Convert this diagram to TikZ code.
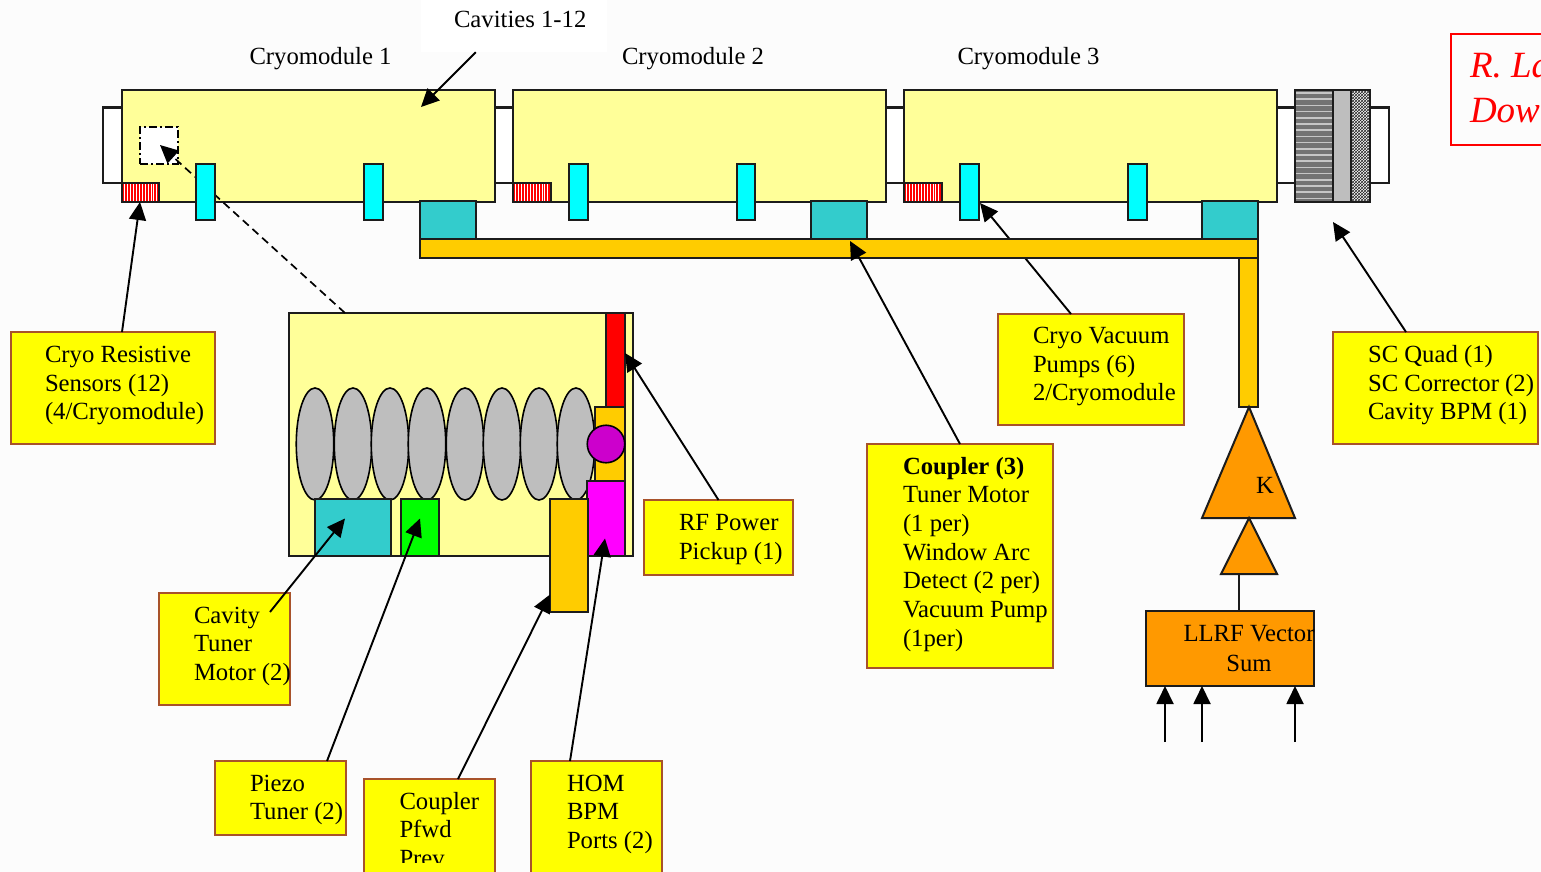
\documentclass[tikz,border=0pt]{standalone}
\usepackage{fontspec}
\setmainfont{Liberation Serif}
\usetikzlibrary{arrows.meta,patterns,shapes.geometric}
\definecolor{pale}{HTML}{FFFF99}
\definecolor{lblfill}{HTML}{FFFF00}
\definecolor{lbledge}{HTML}{A8522A}
\definecolor{inkk}{HTML}{1C1C1C}
\definecolor{teal2}{HTML}{33CCCC}
\definecolor{aqua}{HTML}{00FFFF}
\definecolor{amber}{HTML}{FFCC00}
\definecolor{drive}{HTML}{FF9900}
\definecolor{silver2}{HTML}{BEBEBE}
\definecolor{purp}{HTML}{CC00CC}
\definecolor{magen}{HTML}{FF00FF}
\definecolor{lime2}{HTML}{00FF00}
\definecolor{redd}{HTML}{FF0000}
\tikzset{
  part/.style={draw=inkk,line width=2.1pt,inner sep=0pt,outer sep=0pt,rectangle},
  module/.style={part,fill=pale},
  stub/.style={part,fill=white},
  pump/.style={part,fill=aqua},
  cplr/.style={part,fill=teal2},
  amberbox/.style={part,fill=amber},
  sensor/.style={part,fill=redd,path picture={
    \foreach \i in {1,...,13}
      \draw[white,line width=1pt] ([xshift=\i*2.9]path picture bounding box.south west) -- ([xshift=\i*2.9]path picture bounding box.north west);}},
  hstripes/.style={part,fill=gray!90!black,path picture={
    \foreach \i in {0,...,18}
      \draw[gray!45,line width=1.5pt] ([yshift=-3-\i*6.2]path picture bounding box.north west) -- ([yshift=-3-\i*6.2]path picture bounding box.north east);}},
  hatch/.style={part,pattern=crosshatch,pattern color=black!85},
  lblbox/.style={draw=lbledge,line width=1.8pt,fill=lblfill,inner sep=0pt,outer sep=0pt,rectangle},
  txt/.style={inner sep=0pt,outer sep=0pt,anchor=north west,align=left,font=\fontsize{24.7}{28.7}\selectfont,text=black},
  arr/.style={draw=black,line width=1.9pt,-{Triangle[length=18pt,width=17pt]}},
  plain/.style={draw=inkk,line width=2pt},
  tri/.style={draw=inkk,line width=2pt,fill=drive,line join=miter}
}
\newcommand{\bx}[6][]{%
  \pgfmathsetmacro{\bw}{#5-#3}\pgfmathsetmacro{\bh}{#6-#4}%
  \pgfmathsetmacro{\cxx}{(#3+#5)/2}\pgfmathsetmacro{\cyy}{(#4+#6)/2}%
  \node[#1,minimum width=\bw pt,minimum height=\bh pt] (#2) at (\cxx,\cyy) {};}
\newcommand{\tx}[5][]{\node[txt,#1] (#2) at (#3,{#4-20}) {\rule{0pt}{20pt}#5};}
\begin{document}
\begin{tikzpicture}[x=1pt,y=-1pt]
\clip (0,0) rectangle (1541,872);
\fill[white!99!black] (0,0) rectangle (1541,872);
% stubs
\bx[stub]{stubL}{103}{107.5}{122}{183}
\bx[stub]{stubA}{495}{107.5}{513}{183}
\bx[stub]{stubB}{886}{107.5}{904}{183}
\bx[stub]{stubC}{1277}{107.5}{1295}{183}
\bx[stub]{stubR}{1370}{107.5}{1389}{183}
% modules
\bx[module]{cmA}{122}{90}{495}{202}
\bx[module]{cmB}{513}{90}{886}{202}
\bx[module]{cmC}{904}{90}{1277}{202}
% quad
\bx[hstripes]{quadA}{1295}{90}{1333}{202}
\bx[part,fill=silver2]{quadB}{1333}{90}{1351}{202}
\bx[hatch]{quadC}{1351}{90}{1370}{202}
% detail window
\node[draw=black,fill=white,line width=2.2pt,dash pattern=on 8pt off 3pt on 2pt off 3pt,inner sep=0pt,minimum width=38pt,minimum height=37pt] (win) at (159,145.5) {};
% sensors
\bx[sensor]{senA}{122}{183}{159}{202}
\bx[sensor]{senB}{513}{183}{551}{202}
\bx[sensor]{senC}{904}{183}{942}{202}
% detail box first, for the dashed leader
\bx[module]{detail}{289}{313}{633}{556}
\draw[black,line width=1.7pt,dash pattern=on 8pt off 5pt,-{Triangle[length=18pt,width=17pt]}] ([xshift=-116]detail.north) -- ([xshift=1,yshift=0.5]win.center);
% pumps
\bx[pump]{pmA}{196}{164}{215}{220}
\bx[pump]{pmB}{364}{164}{383}{220}
\bx[pump]{pmC}{569}{164}{588}{220}
\bx[pump]{pmD}{737}{164}{755}{220}
\bx[pump]{pmE}{960}{164}{979}{220}
\bx[pump]{pmF}{1128}{164}{1147}{220}
% couplers
\bx[cplr]{cpA}{420}{201}{476}{239}
\bx[cplr]{cpB}{811}{201}{867}{239}
\bx[cplr]{cpC}{1202}{201}{1258}{239}
% cavities
\foreach \c/\n in {315/a,353/b,390/c,427/d,465/e,502/f,539/g,576/h}
  \node[draw=black,fill=silver2,line width=1.6pt,ellipse,inner sep=0pt,minimum width=37.5pt,minimum height=112pt] (cav\n) at (\c,444) {};
% detail parts
\bx[part,fill=redd]{rfred}{606}{313}{625}{407}
\bx[amberbox]{cplA}{595}{407}{625}{481}
\node[draw=black,fill=purp,line width=1.6pt,circle,inner sep=0pt,minimum size=37.5pt] (dot) at (606,444) {};
\bx[part,fill=magen]{hom}{587}{481}{625}{556}
\bx[amberbox]{cplB}{550}{499}{588}{612}
\bx[cplr]{tuner}{315}{499}{391}{556}
\bx[part,fill=lime2]{piezo}{401}{499}{439}{556}
% labels
\bx[lblbox]{lSens}{11}{332}{215}{444}
\bx[lblbox]{lVac}{998}{314}{1184}{425}
\bx[lblbox]{lSC}{1333}{332}{1538}{444}
\bx[lblbox]{lCoup}{867}{444}{1053}{668}
\bx[lblbox]{lRF}{644}{500}{793}{575}
\bx[lblbox]{lTun}{159}{593}{290}{705}
\bx[lblbox]{lPz}{215}{761}{346}{835}
\bx[lblbox]{lPf}{364}{779}{495}{890}
\bx[lblbox]{lHOM}{531}{761}{662}{890}
% vacuum pump arrow, passes under the header
\draw[arr] ([xshift=73]lVac.north west) -- ([xshift=1,yshift=-11]pmE.east);
% header
\bx[amberbox]{feedV}{1239}{258}{1258}{407}
\bx[amberbox]{feedH}{420}{239}{1258}{258}
% drive chain
\coordinate (kTop) at (1249,407);
\draw[tri] (kTop) -- (1295,518) -- (1202,518) -- cycle;
\coordinate (preTop) at (1249,518);
\coordinate (preBase) at (1239,574);
\draw[tri] (preTop) -- (1277,574) -- (1221,574) -- cycle;
\bx[part,fill=drive]{llrf}{1146}{611}{1314}{686}
\draw[plain] (preBase) -- ([xshift=9]llrf.north);
\coordinate (inA) at (1165,742);
\coordinate (inB) at (1202,742);
\coordinate (inC) at (1295,742);
\draw[arr] (inA) -- (inA |- llrf.south);
\draw[arr] (inB) -- (inB |- llrf.south);
\draw[arr] (inC) -- (inC |- llrf.south);
% white title
\node[fill=white,inner sep=0pt,minimum width=186pt,minimum height=52pt] (capbg) at (514,26) {};
% texts
\tx{tCav}{454}{27.5}{Cavities 1-12}
\tx{tCmA}{249.5}{65}{Cryomodule 1}
\tx{tCmB}{622}{65}{Cryomodule 2}
\tx{tCmC}{957.5}{65}{Cryomodule 3}
\tx{tSens}{45}{362.5}{Cryo Resistive\\Sensors (12)\\(4/Cryomodule)}
\tx{tVac}{1033}{343.5}{Cryo Vacuum\\Pumps (6)\\2/Cryomodule}
\tx{tSC}{1368}{362.5}{SC Quad (1)\\SC Corrector (2)\\Cavity BPM (1)}
\tx{tCoup}{903}{474}{\textbf{Coupler (3)}\\Tuner Motor\\(1 per)\\Window Arc\\Detect (2 per)\\Vacuum Pump\\(1per)}
\tx{tRF}{679}{530.5}{RF Power\\Pickup (1)}
\tx{tTun}{194}{623}{Cavity\\Tuner\\Motor (2)}
\tx{tPz}{250}{791}{Piezo\\Tuner (2)}
\begin{scope}
\clip (364,779) rectangle (495,862);
\tx{tPf}{399.5}{809}{Coupler\\Pfwd\\Prev}
\end{scope}
\tx{tHOM}{567}{791}{HOM\\BPM\\Ports (2)}
\tx{tK}{1256}{493}{K}
\begin{scope}
\clip (1146,611) rectangle (1314,686);
\node[txt,anchor=north,align=center] (tLL) at (1249,625) {LLRF Vector\\[1.5pt]Sum};
\end{scope}
% author box
\bx[draw=redd,line width=1.8pt,inner sep=0pt,outer sep=0pt,rectangle]{auth}{1451}{34}{1560}{145}
\node[txt,anchor=north west,text=redd,font=\fontsize{37}{45}\itshape\selectfont] (tAuth) at (1470,53) {R. La\\Dow};
% arrows
\draw[arr] ([xshift=55]capbg.south west) -- ([xshift=299,yshift=-17]cmA.north west);
\draw[arr] ([xshift=111]lSens.north west) -- ([xshift=-0.5]senA.south);
\draw[arr] (lCoup.north) -- ([xshift=430,yshift=-2]feedH.north west);
\draw[arr] ([xshift=73]lSC.north west) -- ([xshift=19,yshift=-20]quadA.south);
\draw[arr] (lRF.north) -- ([yshift=7]rfred.east);
\draw[arr] ([xshift=-20,yshift=-19]lTun.north east) -- ([xshift=-8,yshift=9]tuner.center);
\draw[arr] ([xshift=46.5]lPz.north) -- ([yshift=9]piezo.center);
\draw[arr] ([xshift=28.5]lPf.north) -- ([yshift=-39]cplB.west);
\draw[arr] ([xshift=-26.5]lHOM.north) -- ([xshift=-1,yshift=-20]hom.center);
\end{tikzpicture}
\end{document}
